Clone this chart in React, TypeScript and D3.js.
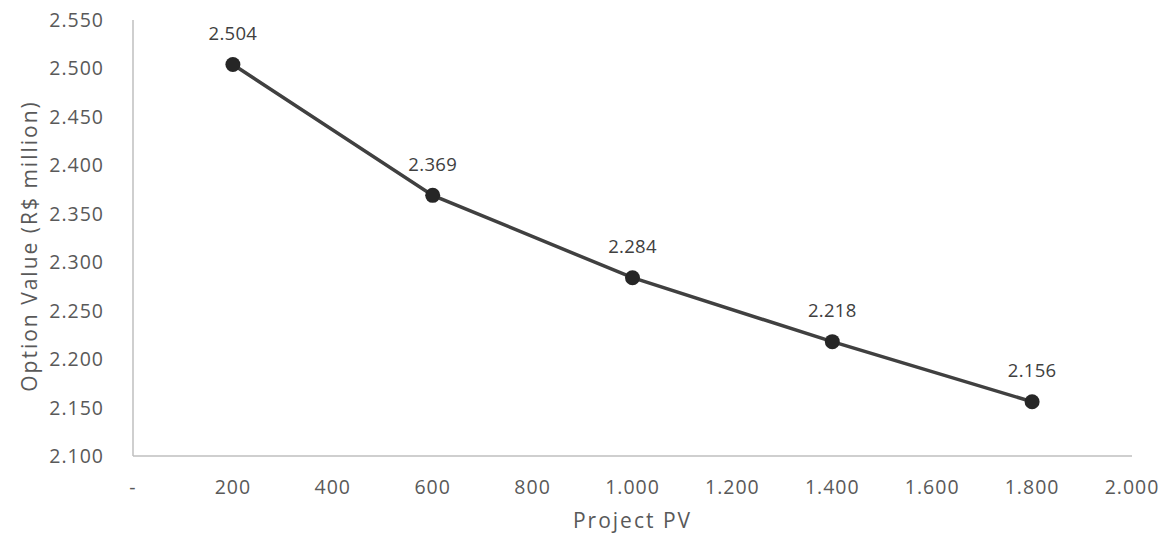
import { scaleLinear, line as d3line, range } from "d3";

const projectPV = [200, 600, 1000, 1400, 1800];
const optionValue = [2.504, 2.369, 2.284, 2.218, 2.156];
const xTicks = range(0, 2001, 200);
const yTicks = range(2.1, 2.5501, 0.05);

const W = 1167;
const H = 535;
const margin = { left: 133, right: 35, top: 20, bottom: 79 };

// brazilian style: thousands with a dot
function fmtX(v: number) {
  if (v === 0) return "-";
  return v >= 1000 ? `${Math.floor(v / 1000)}.${String(v % 1000).padStart(3, "0")}` : String(v);
}
function fmtY(v: number) {
  return v.toFixed(3);
}

export default function App() {
  const x = scaleLinear().domain([0, 2000]).range([margin.left, W - margin.right]);
  const y = scaleLinear().domain([2.1, 2.55]).range([H - margin.bottom, margin.top]);

  const pts = projectPV.map((p, i) => ({ p, v: optionValue[i] }));
  const path = d3line<(typeof pts)[number]>()
    .x((d) => x(d.p))
    .y((d) => y(d.v))(pts) ?? undefined;

  const font = "'Open Sans', sans-serif";

  return (
    <svg
      width={W}
      height={H}
      style={{ position: "absolute", left: 0, top: 0, background: "#fff" }}
      fontFamily={font}
    >
      {/* axes */}
      <line x1={x(0)} x2={x(0)} y1={y(2.55)} y2={y(2.1)} stroke="#bfbfbf" strokeWidth={1.5} />
      <line x1={x(0)} x2={x(2000)} y1={y(2.1)} y2={y(2.1)} stroke="#bfbfbf" strokeWidth={1.5} />

      {yTicks.map((t) => (
        <text key={t} x={x(0) - 29} y={y(t)} dy="0.36em" textAnchor="end" fontSize={19.5} letterSpacing={1} fill="#595959">
          {fmtY(t)}
        </text>
      ))}
      {xTicks.map((t) => (
        <text key={t} x={x(t)} y={y(2.1) + 31} dy="0.36em" textAnchor="middle" fontSize={19.5} letterSpacing={1} fill="#595959">
          {fmtX(t)}
        </text>
      ))}

      <path d={path} fill="none" stroke="#404040" strokeWidth={3.5} />
      {pts.map((d) => (
        <g key={d.p}>
          <circle cx={x(d.p)} cy={y(d.v)} r={7.5} fill="#262626" />
          <text x={x(d.p)} y={y(d.v) - 31} dy="0.36em" textAnchor="middle" fontSize={18.5} letterSpacing={0.3} fill="#404040">
            {d.v.toFixed(3)}
          </text>
        </g>
      ))}

      <text x={(x(0) + x(2000)) / 2} y={528} textAnchor="middle" fontSize={21} letterSpacing={2} fill="#595959">
        Project PV
      </text>
      <text
        transform={`translate(29, 246) rotate(-90)`}
        dy="0.36em"
        textAnchor="middle"
        fontSize={21}
        letterSpacing={2}
        fill="#595959"
      >
        Option Value (R$ million)
      </text>
    </svg>
  );
}
